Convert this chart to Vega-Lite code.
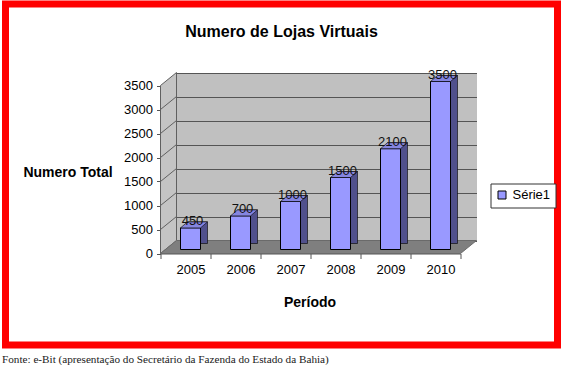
{
  "$schema": "https://vega.github.io/schema/vega-lite/v6.json",
  "background": "white",
  "padding": {"left": 1.5, "top": 0, "right": 0, "bottom": 0},
  "title": {
    "text": "Fonte: e-Bit (apresentação do Secretário da Fazenda do Estado da Bahia)",
    "orient": "bottom", "anchor": "start", "frame": "bounds",
    "font": "Liberation Serif", "fontSize": 11.2, "fontWeight": "normal",
    "color": "#1a1a1a", "offset": 5
  },
  "data": {
    "values": [
      {"ano": "2005", "lojas": 450, "serie": "Série1"},
      {"ano": "2006", "lojas": 700, "serie": "Série1"},
      {"ano": "2007", "lojas": 1000, "serie": "Série1"},
      {"ano": "2008", "lojas": 1500, "serie": "Série1"},
      {"ano": "2009", "lojas": 2100, "serie": "Série1"},
      {"ano": "2010", "lojas": 3500, "serie": "Série1"}
    ]
  },
  "vconcat": [
    {
      "width": 552,
      "height": 341,
      "title": {
        "text": "Numero de Lojas Virtuais", "offset": -35.5,
        "font": "Liberation Sans", "fontSize": 16, "fontWeight": "bold",
        "anchor": "middle", "frame": "group", "color": "#000"
      },
      "layer": [
        {
          "mark": {"type": "rect", "opacity": 0},
          "encoding": {
            "x": {"field": "ano", "type": "nominal",
              "scale": {"range": [171, 471], "paddingInner": 0, "paddingOuter": 0},
              "axis": {"orient": "top", "offset": 0, "values": ["2007"], "bandPosition": 1, "zindex": 0,
                "grid": true, "gridColor": "#c0c0c0", "gridWidth": 300, "gridCap": "butt",
                "labels": false, "ticks": false, "domain": false, "title": null}},
            "y": {"datum": 0, "type": "quantitative",
              "scale": {"domain": [0, 3500], "range": [236.5, 68.5], "nice": false},
              "axis": {"orient": "left", "offset": 0, "zindex": 0, "grid": true, "gridColor": "#555555", "gridWidth": 1,
                "labels": false, "ticks": false, "domain": false, "title": null,
                "values": [0, 500, 1000, 1500, 2000, 2500, 3000, 3500]}},
            "y2": {"datum": 3500}
          }
        },
        {
          "encoding": {
            "x": {"field": "ano", "type": "nominal",
              "scale": {"range": [155, 455], "paddingInner": 0, "paddingOuter": 0},
              "axis": {"orient": "bottom", "offset": -91.5, "title": "Período",
                "titleX": 304, "titleY": 49, "titleAlign": "center", "titleBaseline": "middle",
                "titleFont": "Liberation Sans", "titleFontSize": 14, "titleFontWeight": "bold", "titleColor": "#000",
                "labelAngle": 0, "labelFont": "Liberation Sans", "labelFontSize": 13, "labelColor": "#000",
                "labelOffset": 5, "labelPadding": 5, "tickBand": "extent", "tickSize": 5,
                "tickColor": "#555555", "domainColor": "#555555", "grid": false}},
            "y": {"field": "lojas", "type": "quantitative",
              "scale": {"domain": [0, 3500], "range": [249.5, 81.5], "nice": false},
              "axis": {"orient": "left", "offset": -155, "values": [0, 500, 1000, 1500, 2000, 2500, 3000, 3500],
                "format": "d", "title": "Numero Total", "titleAngle": 0, "titleX": -93, "titleY": 168,
                "titleAlign": "center", "titleBaseline": "middle",
                "titleFont": "Liberation Sans", "titleFontSize": 14, "titleFontWeight": "bold", "titleColor": "#000",
                "labelFont": "Liberation Sans", "labelFontSize": 13, "labelColor": "#000", "labelPadding": 4,
                "tickSize": 4, "tickColor": "#555555", "domainColor": "#555555", "grid": false}}
          },
          "layer": [
            {
              "transform": [{"filter": "datum.ano == '2005'"}],
              "mark": {"type": "point",
                "shape": "M-25,0L-25,-168L-9,-181L-9,-13ZM-25,-24L-9,-37M-25,-48L-9,-61M-25,-72L-9,-85M-25,-96L-9,-109M-25,-120L-9,-133M-25,-144L-9,-157",
                "size": 4, "filled": true, "fill": "#c4c4c4", "stroke": "#606060", "strokeWidth": 1, "opacity": 1},
              "encoding": {"y": {"datum": 0, "type": "quantitative"}}
            },
            {
              "transform": [{"filter": "datum.ano == '2005'"}],
              "mark": {"type": "point", "shape": "M-25,0L275,0L291,-13L-9,-13Z", "size": 4,
                "filled": true, "fill": "#7f7f7f", "stroke": "#6a6a6a", "strokeWidth": 1, "opacity": 1},
              "encoding": {"y": {"datum": 0, "type": "quantitative"}}
            },
            {
              "mark": {"type": "bar", "fill": "#50508c", "stroke": "#000", "strokeWidth": 0.6,
                "width": {"band": 0.4}, "xOffset": 12, "yOffset": -10, "y2Offset": -7}
            },
            {
              "mark": {"type": "bar", "stroke": "#000", "strokeWidth": 1,
                "width": {"band": 0.4}, "xOffset": 5, "yOffset": -4, "y2Offset": -4},
              "encoding": {
                "color": {"field": "serie", "type": "nominal",
                  "scale": {"range": ["#9999ff"]},
                  "legend": {"title": null, "orient": "none", "legendX": 485, "legendY": 179.5,
                    "strokeColor": "#333333", "fillColor": "white", "padding": 5,
                    "symbolType": "square", "symbolSize": 64, "symbolStrokeColor": "#000", "symbolStrokeWidth": 1,
                    "labelFont": "Liberation Sans", "labelFontSize": 13, "labelColor": "#000", "labelOffset": 4}}
              }
            },
            {
              "mark": {"type": "point", "shape": "M-10,0L10,0L17,-6L-3,-6Z", "size": 4,
                "filled": true, "fill": "#8585e0", "stroke": "#000", "strokeWidth": 0.6, "opacity": 1,
                "xOffset": 5, "yOffset": -4}
            },
            {
              "mark": {"type": "text", "dx": 7, "dy": -7, "baseline": "alphabetic", "align": "center",
                "font": "Liberation Sans", "fontSize": 13, "fill": "#111"},
              "encoding": {"text": {"field": "lojas", "type": "quantitative", "format": "d"}}
            }
          ]
        }
      ],
      "resolve": {
        "scale": {"x": "independent", "y": "independent"},
        "axis": {"x": "independent", "y": "independent"}
      }
    }
  ],
  "config": {
    "font": "Liberation Sans",
    "view": {"stroke": "#ff0000", "strokeWidth": 7, "fill": "white"}
  }
}
